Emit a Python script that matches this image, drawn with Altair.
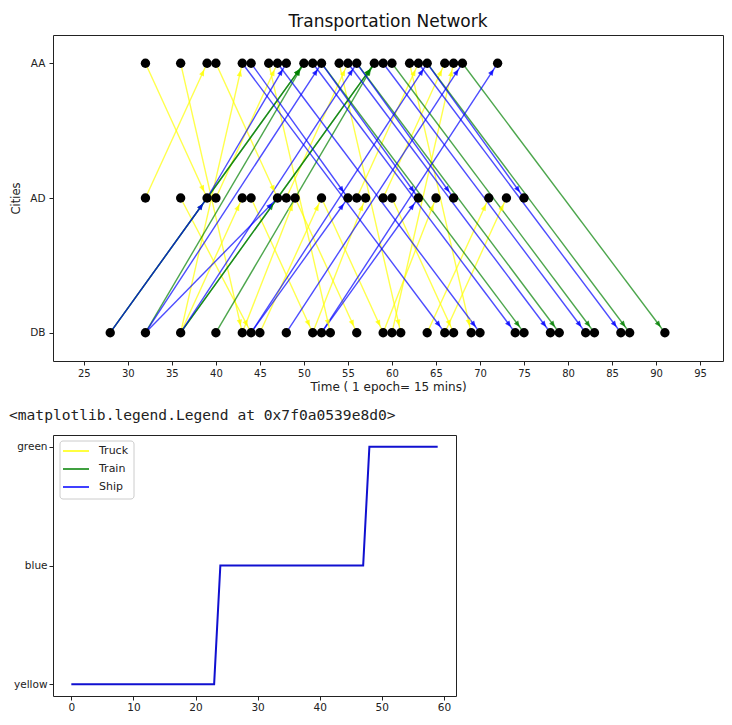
import math
import altair as alt
import pandas as pd

# ---------------- data: transportation network ----------------
city_names = ["DB", "AD", "AA"]          # bottom -> top
mode_names = ["Truck", "Train", "Ship"]
mode_colors = ["#ffff00", "#008000", "#0000ff"]

# Truck moves (departure time, city) -> (arrival time, city)
truck_src_t = [32, 32, 36, 36, 40, 36, 43, 44, 46, 51, 52, 54, 48, 56, 60, 60, 62, 59, 66, 40, 36, 49, 59, 45, 64]
truck_src_c = ["AA", "AD", "AA", "DB", "AA", "AD", "DB", "AD", "AA", "DB", "AD", "AA", "AD", "AD", "DB", "AD", "AA", "DB", "DB", "AD", "DB", "AD", "AD", "DB", "DB"]
truck_dst_t = [39, 39, 43, 43, 47, 44, 49, 51, 53, 57, 59, 61, 55, 63, 67, 67, 69, 65, 73, 47, 43, 56, 66, 52, 71]
truck_dst_c = ["AD", "AA", "DB", "AA", "AD", "DB", "AD", "DB", "DB", "AD", "DB", "DB", "AA", "AA", "AA", "DB", "DB", "AD", "AD", "AA", "AD", "DB", "AA", "AD", "AD"]

# Train moves
train_src_t = [28, 39, 28, 32, 36, 47, 36, 40, 52, 56, 60, 64, 68]
train_src_c = ["DB", "AD", "DB", "DB", "DB", "AD", "DB", "DB", "AA", "AA", "AA", "AA", "AA"]
train_dst_t = [39, 50, 50, 50, 47, 58, 58, 58, 75, 79, 83, 87, 91]
train_dst_c = ["AD", "AA", "AA", "AA", "AD", "AA", "AA", "AA", "DB", "DB", "DB", "DB", "DB"]

# Ship moves
ship_src_t = [28, 39, 32, 36, 44, 48, 52, 32, 44, 52, 44, 52, 56, 64, 43, 47, 51, 55, 59, 63]
ship_src_c = ["DB", "AD", "DB", "DB", "DB", "DB", "DB", "DB", "DB", "DB", "AA", "AA", "AA", "AA", "AA", "AA", "AA", "AA", "AA", "AA"]
ship_dst_t = [39, 48, 52, 56, 64, 68, 72, 47, 55, 63, 55, 63, 67, 75, 66, 70, 74, 78, 82, 86]
ship_dst_c = ["AD", "AA", "AA", "AA", "AA", "AA", "AA", "AD", "AD", "AD", "AD", "AD", "AD", "AD", "DB", "DB", "DB", "DB", "DB", "DB"]

# city nodes (black dots)
aa_times = [32, 36, 39, 40, 43, 44, 46, 47, 48, 50, 51, 52, 54, 55, 56, 58, 59, 60,
            62, 63, 64, 66, 67, 68, 72]
ad_times = [32, 36, 39, 40, 43, 44, 47, 48, 49, 52, 55, 56, 57, 59, 60, 63, 65, 67,
            71, 73, 75]
db_times = [28, 32, 36, 40, 43, 44, 45, 48, 51, 52, 53, 56, 59, 60, 61, 64, 66, 67,
            69, 70, 74, 75, 78, 79, 82, 83, 86, 87, 91]

x_ticks = [25, 30, 35, 40, 45, 50, 55, 60, 65, 70, 75, 80, 85, 90, 95]

# ---------------- data: second figure ----------------
level_names = ["yellow", "blue", "green"]
step_x = list(range(60))
step_y = ["yellow", "yellow", "yellow", "yellow", "yellow", "yellow", "yellow", "yellow",
          "yellow", "yellow", "yellow", "yellow", "yellow", "yellow", "yellow", "yellow",
          "yellow", "yellow", "yellow", "yellow", "yellow", "yellow", "yellow", "yellow",
          "blue", "blue", "blue", "blue", "blue", "blue", "blue", "blue",
          "blue", "blue", "blue", "blue", "blue", "blue", "blue", "blue",
          "blue", "blue", "blue", "blue", "blue", "blue", "blue", "blue",
          "green", "green", "green", "green", "green", "green", "green", "green",
          "green", "green", "green", "green"]
legend_labels = ["Truck", "Train", "Ship"]
legend_text = "<matplotlib.legend.Legend at 0x7f0a0539e8d0>"

# ---------------- layout constants ----------------
FONT = "DejaVu Sans"
TOP_W, TOP_H = 670, 326
X_DOM = [21.5, 97.6]
Y_DOM = [-0.21, 2.21]
BOT_W, BOT_H = 403, 261

row = {c: i for i, c in enumerate(city_names)}
px_per_t = TOP_W / (X_DOM[1] - X_DOM[0])
px_per_row = TOP_H / (Y_DOM[1] - Y_DOM[0])

edges = pd.DataFrame({
    "t0": truck_src_t + train_src_t + ship_src_t,
    "c0": truck_src_c + train_src_c + ship_src_c,
    "t1": truck_dst_t + train_dst_t + ship_dst_t,
    "c1": truck_dst_c + train_dst_c + ship_dst_c,
    "mode": ["Truck"] * len(truck_src_t) + ["Train"] * len(train_src_t) + ["Ship"] * len(ship_src_t),
})
edges["r0"] = edges["c0"].map(row)
edges["r1"] = edges["c1"].map(row)
# orientation of each arrow head on screen (clockwise from "up")
edges["angle"] = [
    (math.degrees(math.atan2((b - a) * px_per_t, (r1 - r0) * px_per_row)) + 360) % 360
    for a, b, r0, r1 in zip(edges["t0"], edges["t1"], edges["r0"], edges["r1"])
]
edges["order"] = range(len(edges))

nodes = pd.DataFrame({
    "t": aa_times + ad_times + db_times,
    "city": ["AA"] * len(aa_times) + ["AD"] * len(ad_times) + ["DB"] * len(db_times),
})
nodes["r"] = nodes["city"].map(row)

xs = alt.Scale(domain=X_DOM, nice=False, zero=False)
ys = alt.Scale(domain=Y_DOM, nice=False, zero=False)
cs = alt.Scale(domain=mode_names, range=mode_colors)

label_expr = "datum.value == 0 ? 'DB' : datum.value == 1 ? 'AD' : 'AA'"
x_axis = alt.Axis(values=x_ticks, title="Time ( 1 epoch= 15 mins)", grid=False,
                  labelFontSize=10, titleFontSize=12, titleFontWeight="normal",
                  titlePadding=3, tickSize=4, labelPadding=3)
y_axis = alt.Axis(values=[0, 1, 2], labelExpr=label_expr, title="Cities", grid=False,
                  labelFontSize=10.5, titleFontSize=11.5, titleFontWeight="normal",
                  titlePadding=8, tickSize=4, labelPadding=4)

lines = alt.Chart(edges).mark_rule(strokeWidth=1.4, opacity=0.7).encode(
    x=alt.X("t0:Q", scale=xs, axis=x_axis),
    x2="t1:Q",
    y=alt.Y("r0:Q", scale=ys, axis=y_axis),
    y2="r1:Q",
    color=alt.Color("mode:N", scale=cs, legend=None),
    detail="order:O",
)

heads = alt.Chart(edges).mark_point(
    shape="M0,0.5L0.19,0.95L-0.19,0.95Z", size=784, filled=True, opacity=0.8, strokeWidth=0
).encode(
    x=alt.X("t1:Q", scale=xs),
    y=alt.Y("r1:Q", scale=ys),
    angle=alt.Angle("angle:Q", scale=None),
    color=alt.Color("mode:N", scale=cs, legend=None),
)

dots = alt.Chart(nodes).mark_circle(size=88, color="black", opacity=1).encode(
    x=alt.X("t:Q", scale=xs),
    y=alt.Y("r:Q", scale=ys),
)

top = alt.layer(lines, heads, dots).properties(
    width=TOP_W, height=TOP_H,
    title=alt.TitleParams("Transportation Network", fontSize=17, font=FONT,
                          fontWeight="normal", offset=4, color="#111111"),
)

# ---------------- bottom chart ----------------
steps = pd.DataFrame({"x": step_x, "level": step_y})
steps["v"] = steps["level"].map({n: i for i, n in enumerate(level_names)})

bx = alt.Scale(domain=[-2.95, 61.95], nice=False, zero=False)
by = alt.Scale(domain=[-0.1, 2.1], nice=False, zero=False)
lvl_expr = "datum.value == 0 ? 'yellow' : datum.value == 1 ? 'blue' : 'green'"

step_line = alt.Chart(steps).mark_line(color="#1010d0", strokeWidth=2).encode(
    x=alt.X("x:Q", scale=bx, axis=alt.Axis(values=[0, 10, 20, 30, 40, 50, 60], title=None,
                                           grid=False, labelFontSize=10.5, tickSize=4)),
    y=alt.Y("v:Q", scale=by, axis=alt.Axis(values=[0, 1, 2], labelExpr=lvl_expr, title=None,
                                           grid=False, labelFontSize=10.5, tickSize=4)),
)

legend_layers = [
    alt.Chart(pd.DataFrame({"a": [0]})).mark_rect(
        fill="white", stroke="#cccccc", strokeWidth=1, cornerRadius=3
    ).encode(x=alt.value(7), x2=alt.value(81), y=alt.value(6), y2=alt.value(64))
]
for i, (lab, col) in enumerate(zip(legend_labels, mode_colors)):
    d = pd.DataFrame({"label": [lab]})
    yy = 16 + 18 * i
    legend_layers.append(
        alt.Chart(d).mark_rule(color=col, strokeWidth=2, opacity=0.75).encode(
            x=alt.value(10), x2=alt.value(36), y=alt.value(yy), y2=alt.value(yy))
    )
    legend_layers.append(
        alt.Chart(d).mark_text(align="left", baseline="middle", fontSize=11, font=FONT,
                               color="#222222").encode(
            x=alt.value(46), y=alt.value(yy), text="label:N")
    )

repr_text = alt.Chart(pd.DataFrame({"s": [legend_text]})).mark_text(
    align="left", baseline="middle", fontSize=14.6, font="DejaVu Sans Mono", color="#222222"
).encode(x=alt.value(-44), y=alt.value(-19), text="s:N")

bottom = alt.layer(step_line, *legend_layers, repr_text).properties(width=BOT_W, height=BOT_H)

chart = alt.vconcat(top, bottom, spacing=74, bounds="flush").properties(
    padding={"left": 0, "top": 4, "right": 0, "bottom": 0}
).configure_view(stroke="#222222", strokeWidth=1).configure_axis(
    domain=False, tickColor="#222222", labelColor="#222222", titleColor="#222222",
    labelFont=FONT, titleFont=FONT,
)

chart.save("out.html", embed_options={"renderer": "svg", "actions": False})
